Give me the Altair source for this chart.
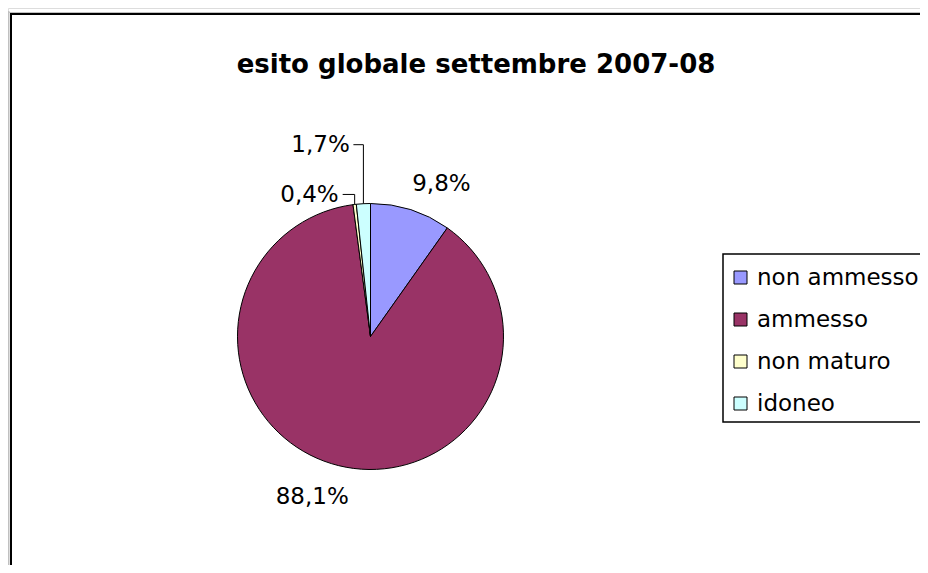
import altair as alt
import pandas as pd

# ---- data ----
categories = ["non ammesso", "ammesso", "non maturo", "idoneo"]
percentages = [9.8, 88.1, 0.4, 1.7]
colors = ["#9999FF", "#993366", "#FFFFCC", "#CCFFFF"]
title_text = "esito globale settembre 2007-08"

# ---- layout / style ----
W, H = 912, 557
CX, CY, R = 362.5, 328.5, 133
FONT = "DejaVu Sans"

df = pd.DataFrame({"cat": categories, "pct": percentages, "idx": list(range(len(categories)))})

base = alt.Chart(df).transform_window(
    cum="sum(pct)", sort=[alt.SortField("idx")], frame=[None, 0]
).transform_calculate(
    mid="datum.cum - datum.pct / 2",
    ang="(datum.cum - datum.pct / 2) / 100 * 2 * PI",
    label="replace(format(datum.pct, '.1f'), '.', ',') + '%'",
)

one = pd.DataFrame({"a": [0]})

frame = alt.Chart(one).mark_rect(fill="white", stroke="black", strokeWidth=2).encode(
    x=alt.value(3), x2=alt.value(W + 20), y=alt.value(6), y2=alt.value(H + 20)
)
gray_left = alt.Chart(one).mark_rule(color="#C0C0C0", strokeWidth=1.5).encode(
    x=alt.value(0.75), y=alt.value(3), y2=alt.value(H)
)
gray_top = alt.Chart(one).mark_rule(color="#C0C0C0", strokeWidth=1).encode(
    x=alt.value(0), x2=alt.value(W), y=alt.value(4.5)
)

pie = alt.Chart(df).mark_arc(outerRadius=R, stroke="black", strokeWidth=1).encode(
    theta=alt.Theta("pct:Q", stack=True),
    color=alt.Color(
        "cat:N",
        scale=alt.Scale(domain=categories, range=colors),
        legend=alt.Legend(
            title=" ", titleFontSize=6, titlePadding=0,
            orient="none", legendX=715, legendY=246,
            symbolType="square", symbolSize=169, symbolStrokeColor="black",
            symbolStrokeWidth=1, labelFont=FONT, labelFontSize=23,
            labelColor="black", labelLimit=400, padding=6, rowPadding=18,
            labelOffset=5, strokeColor="black", fillColor="white",
            cornerRadius=0,
        ),
    ),
    order=alt.Order("idx:Q"),
    x=alt.value(CX), y=alt.value(CY),
)

label_offsets = {
    "non ammesso": (20, 8),
    "ammesso": (-18, -3),
    "non maturo": (-41, 25),
    "idoneo": (-41, -24),
}
labels = [
    base.transform_filter(alt.datum.cat == c).mark_text(
        font=FONT, fontSize=23, color="black", radius=168, dx=dx, dy=dy,
        align="center", baseline="middle",
    ).encode(
        theta=alt.Theta("mid:Q", scale=alt.Scale(domain=[0, 100])),
        text="label:N",
        x=alt.value(CX), y=alt.value(CY),
    )
    for c, (dx, dy) in label_offsets.items()
]

leader_sizes = {"non maturo": (10, 12), "idoneo": (59, 10)}
leaders = []
for c, (up, left) in leader_sizes.items():
    lb = base.transform_filter(alt.datum.cat == c).transform_calculate(
        ax=f"{CX} + {R} * sin(datum.ang)",
        ay=f"{CY} - {R} * cos(datum.ang)",
    ).transform_calculate(
        ey=f"datum.ay - {up}",
        ex=f"datum.ax - {left}",
    )
    leaders.append(lb.mark_rule(color="black", strokeWidth=1).encode(
        x=alt.X("ax:Q", scale=None, axis=None),
        y=alt.Y("ay:Q", scale=None, axis=None),
        y2="ey:Q",
    ))
    leaders.append(lb.mark_rule(color="black", strokeWidth=1).encode(
        x=alt.X("ax:Q", scale=None, axis=None),
        x2="ex:Q",
        y=alt.Y("ey:Q", scale=None, axis=None),
    ))

title = alt.Chart(pd.DataFrame({"t": [title_text]})).mark_text(
    font=FONT, fontWeight="bold", fontSize=26, color="black",
    align="center", baseline="middle",
).encode(text="t:N", x=alt.value(468), y=alt.value(57))

chart = alt.layer(
    frame, gray_left, gray_top, pie, *labels, *leaders, title
).resolve_scale(theta="independent").properties(
    width=W, height=H, autosize=alt.AutoSizeParams(type="none"), padding=0
).configure_view(stroke=None).configure(background="white").configure_legend(strokeWidth=1.5)

chart.save("out.html", embed_options={"renderer": "svg", "actions": False})
